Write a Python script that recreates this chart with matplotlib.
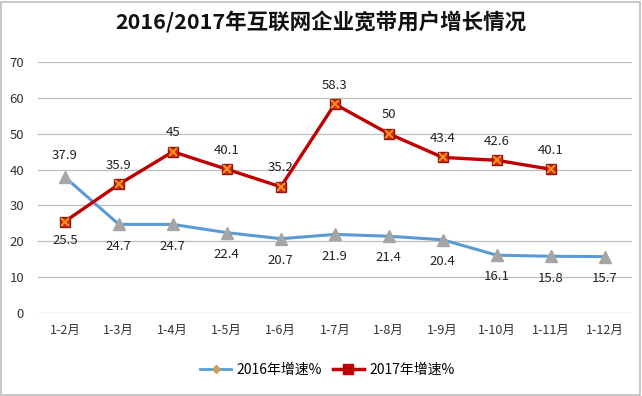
import matplotlib
matplotlib.use("Agg")
import matplotlib.pyplot as plt
from matplotlib.lines import Line2D
from matplotlib.patches import Rectangle

plt.rcParams['font.family'] = ['Noto Sans CJK SC', 'DejaVu Sans']

categories = ["1-2月", "1-3月", "1-4月", "1-5月", "1-6月", "1-7月", "1-8月", "1-9月", "1-10月", "1-11月", "1-12月"]
growth_2016 = [37.9, 24.7, 24.7, 22.4, 20.7, 21.9, 21.4, 20.4, 16.1, 15.8, 15.7]
growth_2017 = [25.5, 35.9, 45, 40.1, 35.2, 58.3, 50, 43.4, 42.6, 40.1]
yticks = [0, 10, 20, 30, 40, 50, 60, 70]

fig = plt.figure(figsize=(6.42, 3.96), dpi=100)
ax = fig.add_axes([0.059, 0.21, 0.925, 0.633])

x16 = list(range(len(growth_2016)))
x17 = list(range(len(growth_2017)))
ax.plot(x16, growth_2016, color="#5B9BD5", lw=2.2, marker="^", ms=8,
        mfc="#A5A5A5", mec="#A5A5A5", zorder=3)
ax.plot(x17, growth_2017, color="#C00000", lw=2.4, marker="s", ms=7.5,
        mfc="#D42A10", mec="#8B1A10", zorder=4)
ax.plot(x17, growth_2017, ls="none", marker="x", ms=5.5, mew=1.3,
        mec="#FF9A20", zorder=5)

# label placement: above (+) or below (-)
pos16 = [1] + [-1] * (len(growth_2016) - 1)
pos17 = [-1] + [1] * (len(growth_2017) - 1)
for xi, v, p in zip(x16, growth_2016, pos16):
    ax.annotate(f"{v:g}", (xi, v), xytext=(0, 11 * p), textcoords="offset points",
                ha="center", va="bottom" if p > 0 else "top", fontsize=9.5, color="#222222")
for xi, v, p in zip(x17, growth_2017, pos17):
    ax.annotate(f"{v:g}", (xi, v), xytext=(0, 9 * p), textcoords="offset points",
                ha="center", va="bottom" if p > 0 else "top", fontsize=9.5, color="#222222")

ax.set_xlim(-0.5, len(categories) - 0.5)
ax.set_ylim(0, 70)
ax.set_yticks(yticks)
ax.set_xticks(range(len(categories)))
ax.set_xticklabels(categories, fontsize=9, color="#333333")
ax.tick_params(axis="y", labelsize=9.5, colors="#333333", length=0, pad=10)
ax.tick_params(axis="x", length=0, pad=8)
ax.grid(axis="y", color="#BFBFBF", lw=0.9)
ax.set_axisbelow(True)
for s in ax.spines.values():
    s.set_visible(False)

fig.suptitle("2016/2017年互联网企业宽带用户增长情况", fontsize=15.5, fontweight="bold",
             x=0.50, y=0.97, color="#111111")

handles = [
    Line2D([], [], color="#5B9BD5", lw=2, marker="D", ms=4, mfc="#C9A063", mec="#C9A063"),
    Line2D([], [], color="#C00000", lw=2.5, marker="s", ms=7, mfc="#C00000", mec="#C00000"),
]
fig.legend(handles, ["2016年增速%", "2017年增速%"], loc="center", bbox_to_anchor=(0.51, 0.065),
           ncol=2, frameon=False, fontsize=10, handlelength=2.2, columnspacing=0.8, handletextpad=0.4)

fig.patches.append(Rectangle((0.002, 0.003), 0.995, 0.993, transform=fig.transFigure,
                             fill=False, ec="#BFBFBF", lw=1.2))

fig.savefig("out.png", dpi=100)
